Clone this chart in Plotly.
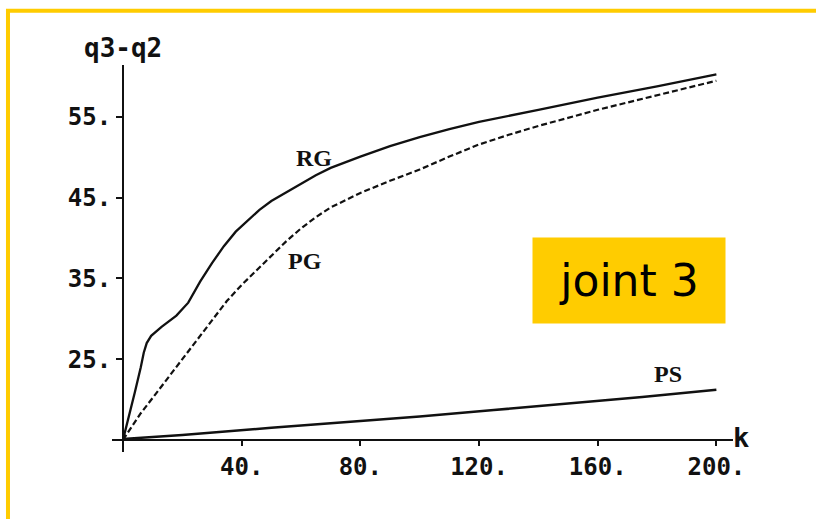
import plotly.graph_objects as go

# Joint 3 trajectories: difference q3 - q2 against step k
k_rg = [0, 2, 4, 6, 7, 8, 9.5, 13, 18, 22, 26, 30, 34, 38, 42, 46, 50, 55, 60, 65, 70, 80, 90, 100,
        110, 120, 140, 160, 180, 200]
rg = [15.0, 17.8, 20.9, 24.0, 25.8, 27.0, 27.9, 29.0, 30.4, 32.0, 34.6, 36.9, 39.0, 40.8, 42.2, 43.5,
      44.6, 45.7, 46.7, 47.8, 48.7, 50.1, 51.4, 52.5, 53.5, 54.4, 55.9, 57.4, 58.8, 60.3]

k_pg = [0, 3, 6, 10, 15, 20, 25, 30, 35, 40, 45, 50, 55, 60, 65, 70, 80, 90, 100, 110, 120, 130, 140,
        150, 160, 170, 180, 190, 200]
pg = [15.0, 16.6, 18.3, 20.2, 22.6, 25.0, 27.5, 29.9, 32.2, 34.2, 36.0, 37.8, 39.6, 41.2, 42.6, 43.8,
      45.6, 47.1, 48.5, 50.1, 51.6, 52.8, 53.9, 54.9, 55.9, 56.8, 57.7, 58.6, 59.5]

k_ps = [0, 20, 50, 75, 100, 125, 150, 175, 200]
ps = [15.1, 15.6, 16.5, 17.2, 17.9, 18.7, 19.5, 20.3, 21.2]

x_ticks = [40, 80, 120, 160, 200]
x_ticktext = ["40.", "80.", "120.", "160.", "200."]
y_ticks = [25, 35, 45, 55]
y_ticktext = ["25.", "35.", "45.", "55."]

x_range = [-3.7, 205.6]
y_range = [13.5, 61.45]
x_origin, y_origin = 0, 15

INK = "#111111"
GOLD = "#FFCC00"
MONO = "DejaVu Sans Mono, Liberation Mono, monospace"
SERIF = "Liberation Serif, DejaVu Serif, serif"

fig = go.Figure()
fig.add_trace(go.Scatter(x=k_rg, y=rg, mode="lines", line=dict(color=INK, width=2.3), showlegend=False))
fig.add_trace(go.Scatter(x=k_pg, y=pg, mode="lines", line=dict(color=INK, width=2.2, dash="6px,3px"),
                         showlegend=False))
fig.add_trace(go.Scatter(x=k_ps, y=ps, mode="lines", line=dict(color=INK, width=2.5), showlegend=False))

# axes cross at (0, 15)
x_pos = (y_origin - y_range[0]) / (y_range[1] - y_range[0])
y_pos = (x_origin - x_range[0]) / (x_range[1] - x_range[0])

tick_font = dict(family=MONO, size=24, color=INK, weight="bold")

fig.update_layout(
    width=816, height=519,
    margin=dict(l=112, r=83, t=65, b=67),
    paper_bgcolor="white", plot_bgcolor="white",
    xaxis=dict(range=x_range, showgrid=False, zeroline=False, showline=True, linecolor=INK, linewidth=2,
               anchor="free", position=x_pos, tickmode="array", tickvals=x_ticks, ticktext=x_ticktext,
               ticks="outside", ticklen=5, tickwidth=2, tickcolor=INK, tickfont=tick_font),
    yaxis=dict(range=y_range, showgrid=False, zeroline=False, showline=True, linecolor=INK, linewidth=2,
               anchor="free", position=y_pos, tickmode="array", tickvals=y_ticks, ticktext=y_ticktext,
               ticks="outside", ticklen=6, tickwidth=2, tickcolor=INK, tickfont=tick_font),
    shapes=[
        # gold frame along the top and left edges
        dict(type="rect", xref="paper", yref="paper", x0=-0.1675, x1=1.2, y0=-0.2, y1=1.1405,
             line=dict(color=GOLD, width=4), fillcolor="rgba(0,0,0,0)", layer="below"),
    ],
    annotations=[
        dict(text="q3-q2", xref="x", yref="paper", x=0, y=1.0, yanchor="bottom", xanchor="center",
             showarrow=False, font=dict(family=MONO, size=26, color=INK, weight="bold")),
        dict(text="k", xref="paper", yref="y", x=1.0, y=y_origin, xanchor="left", yanchor="middle",
             showarrow=False, font=dict(family=MONO, size=27, color=INK, weight="bold"), xshift=-2, yshift=2),
        dict(text="RG", x=64.4, y=49.9, showarrow=False,
             font=dict(family=SERIF, size=24, color=INK, weight="bold")),
        dict(text="PG", x=61.4, y=37.2, showarrow=False,
             font=dict(family=SERIF, size=24, color=INK, weight="bold")),
        dict(text="PS", x=183.8, y=23.2, showarrow=False,
             font=dict(family=SERIF, size=24, color=INK, weight="bold")),
        dict(text="joint 3", xref="paper", yref="paper", x=0.8325, y=0.4432, xanchor="center",
             yanchor="middle", showarrow=False, bgcolor=GOLD, width=192, height=85, borderpad=0,
             font=dict(family="DejaVu Sans, Verdana, sans-serif", size=44, color="#000000")),
    ],
)

fig.write_html("out.html")
